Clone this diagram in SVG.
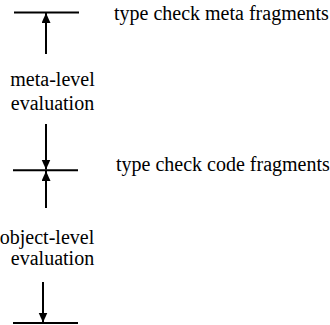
<svg xmlns="http://www.w3.org/2000/svg" width="330" height="325" viewBox="0 0 330 325">
<style>
.bar{stroke:#000;stroke-width:2;fill:none}
.arr{stroke:#000;stroke-width:2;fill:none;marker-end:url(#ah)}
text{font-family:"Liberation Serif","Times New Roman",serif;font-size:20px;fill:#000}
.c{text-anchor:middle}
</style>
<defs>
<marker id="ah" markerUnits="userSpaceOnUse" markerWidth="10" markerHeight="10" refX="10" refY="4.5" orient="auto">
<path d="M0,0 L10,4.5 L0,9 Z" fill="#000"/>
</marker>
</defs>
<g id="meta-bar"><line class="bar" x1="14" y1="12.5" x2="79" y2="12.5"/></g>
<g id="code-bar"><line class="bar" x1="13" y1="170.3" x2="78" y2="170.3"/></g>
<g id="bottom-bar"><line class="bar" x1="13" y1="323" x2="78" y2="323"/></g>
<g id="meta-check"><text x="114" y="20">type check meta fragments</text></g>
<g id="code-check"><text x="116" y="171">type check code fragments</text></g>
<g id="meta-eval"><text class="c" x="52.5" y="86">meta-level</text><text class="c" x="52.5" y="110">evaluation</text></g>
<g id="object-eval"><text class="c" x="47" y="244" font-size="21">object-level</text><text class="c" x="52.5" y="265">evaluation</text></g>
<g id="connectors">
<line class="arr" x1="46" y1="54" x2="46" y2="13"/>
<line class="arr" x1="46" y1="124" x2="46" y2="169.5"/>
<line class="arr" x1="46" y1="208" x2="46" y2="171"/>
<line class="arr" x1="43" y1="282" x2="43" y2="322.5"/>
</g>
</svg>
